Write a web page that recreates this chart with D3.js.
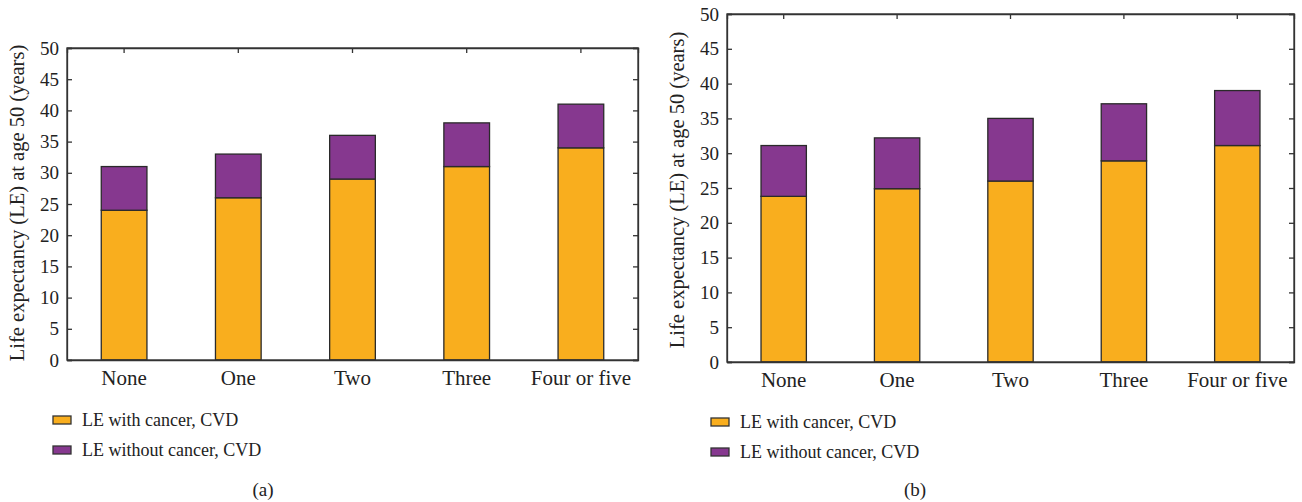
<!DOCTYPE html>
<html><head><meta charset="utf-8">
<script src="https://cdn.jsdelivr.net/npm/d3@7"></script>
<style>
body{margin:0;background:#fff;}
text{font-family:"Liberation Serif","DejaVu Serif",serif;fill:#222;}
</style></head>
<body><svg id="c" width="1302" height="502"></svg>
<script>
const categories = ["None","One","Two","Three","Four or five"];
const withCancerA = [24, 26, 29, 31, 34];
const withoutCancerA = [7, 7, 7, 7, 7];
const withCancerB = [23.8, 24.9, 26, 28.9, 31.1];
const withoutCancerB = [7.3, 7.3, 9, 8.2, 7.9];
const yTicks = [0,5,10,15,20,25,30,35,40,45,50];
const seriesNames = ["LE with cancer, CVD","LE without cancer, CVD"];
const colors = ["#F9AE1E","#86388F"];
const yTitle = "Life expectancy (LE) at age 50 (years)";

const svg = d3.select("#c");

function panel(o){
  const g = svg.append("g");
  const x = d3.scaleBand().domain(categories).range([o.x0,o.x1]).paddingInner(0.6).paddingOuter(0.3);
  const y = d3.scaleLinear().domain([0,50]).range([o.y1,o.y0]);
  const stackData = categories.map((c,i)=>({cat:c, a:o.s1[i], b:o.s2[i]}));
  const stack = d3.stack().keys(["a","b"])(stackData);
  stack.forEach((layer,li)=>{
    g.selectAll(null).data(layer).enter().append("rect")
      .attr("x",d=>x(d.data.cat)).attr("width",x.bandwidth())
      .attr("y",d=>y(d[1])).attr("height",d=>y(d[0])-y(d[1]))
      .attr("fill",colors[li]).attr("stroke","#2a2a2a").attr("stroke-width",1.3);
  });
  g.append("rect").attr("x",o.x0).attr("y",o.y0).attr("width",o.x1-o.x0).attr("height",o.y1-o.y0)
    .attr("fill","none").attr("stroke","#333").attr("stroke-width",1.3);
  const la = g.append("g").attr("transform",`translate(${o.x0},0)`)
    .call(d3.axisLeft(y).tickValues(yTicks).tickSize(-5).tickPadding(8));
  la.selectAll("text").style("font-size","19px");
  g.append("g").attr("transform",`translate(${o.x1},0)`)
    .call(d3.axisRight(y).tickValues(yTicks).tickSize(-5).tickFormat(""));
  g.append("g").attr("transform",`translate(0,${o.y0})`)
    .call(d3.axisTop(x).tickSize(-5).tickFormat(""));
  const ba = g.append("g").attr("transform",`translate(0,${o.y1})`)
    .call(d3.axisBottom(x).tickSize(0).tickPadding(o.bp));
  ba.selectAll("text").style("font-size","21px");
  [la,ba].forEach(a=>a.selectAll("text").style("font-family","Liberation Serif, serif").attr("fill","#222"));
  g.selectAll(".domain").attr("stroke","#333").attr("stroke-width",1.3);
  g.selectAll(".tick line").attr("stroke","#333").attr("stroke-width",1.3);
  g.append("text").attr("transform",`translate(${o.tx},${o.ty}) rotate(-90)`)
    .attr("text-anchor","middle").style("font-size","20.5px").text(yTitle);
  seriesNames.forEach((n,i)=>{
    const ly = o.ly + i*30;
    g.append("rect").attr("x",o.lx).attr("y",ly-8).attr("width",18).attr("height",8)
      .attr("fill",colors[i]).attr("stroke","#333").attr("stroke-width",1.3);
    g.append("text").attr("x",o.lx+29).attr("y",ly+2).style("font-size","18px").text(n);
  });
  g.append("text").attr("x",o.cx).attr("y",o.cy).attr("text-anchor","middle").style("font-size","19px").text(o.cap);
}

panel({x0:67,x1:638,y0:48,y1:360,s1:withCancerA,s2:withoutCancerA,tx:24,ty:203,bp:10,lx:53,ly:424,cx:263,cy:496,cap:"(a)"});
panel({x0:727,x1:1294,y0:14,y1:362,s1:withCancerB,s2:withoutCancerB,tx:684,ty:190,bp:10,lx:711,ly:426,cx:915,cy:496,cap:"(b)"});
</script></body></html>
